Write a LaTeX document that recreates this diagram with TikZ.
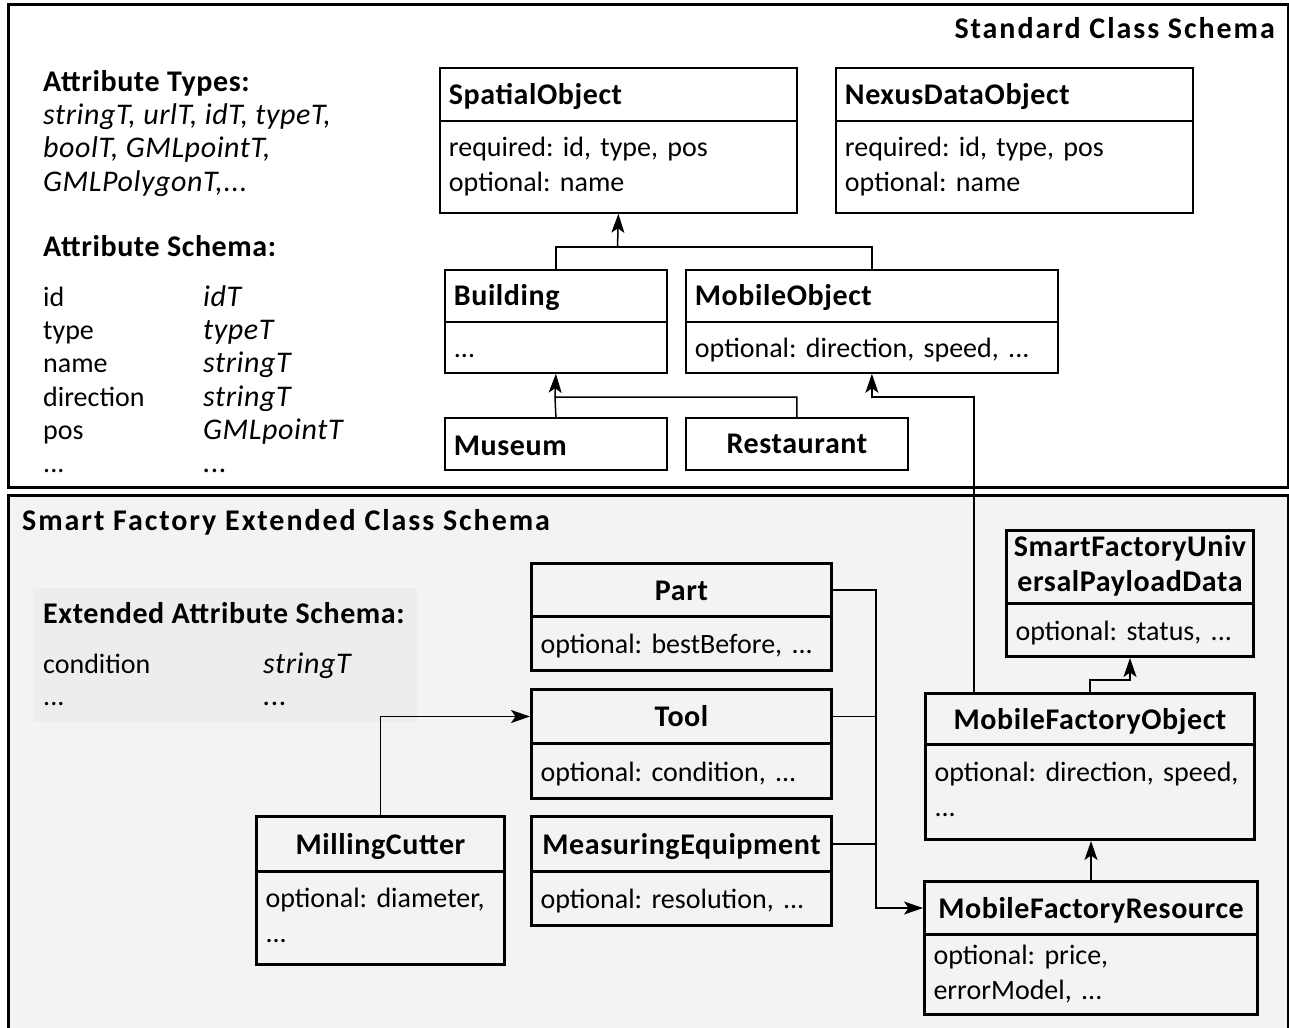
\documentclass[tikz,border=0pt]{standalone}
\usepackage{fontspec}
\setmainfont{Carlito}
\usetikzlibrary{arrows.meta}
\definecolor{panelgray}{HTML}{F3F3F3}
\definecolor{schemagray}{HTML}{EDEDED}
\newcommand{\st}{\strut}
% strut that sits single lines slightly low in their compartment
\newcommand{\tst}{\rule[-7.5pt]{0pt}{35pt}}
\newcommand{\bodyfont}{\fontsize{28}{35}\selectfont}
\newcommand{\boldfont}{\fontsize{30}{35}\selectfont\bfseries\addfontfeature{LetterSpace=2}}
\newcommand{\itfont}{\fontsize{30}{35}\selectfont\itshape\addfontfeature{LetterSpace=2}}
\newcommand{\panelfont}{\fontsize{30}{35}\selectfont\bfseries\addfontfeature{LetterSpace=6.5}}
\frenchspacing
\begin{document}
\begin{tikzpicture}[x=1pt,y=-1pt,
  every node/.style={font=\bodyfont},
  panel/.style={draw, line width=3pt},
  cls/.style={draw, anchor=north west, inner xsep=9pt, inner ysep=0pt},
  stdcls/.style={cls, line width=1.8pt, align=left},
  extcls/.style={cls, line width=3pt, align=left},
  title/.style={font=\boldfont},
  mid/.style={align=center},
  conn/.style={line width=1.5pt},
  arr/.style={conn, -{Stealth[length=19pt,width=13pt,inset=4.5pt]}},
  lbl/.style={anchor=base west, inner sep=0pt},
  lblb/.style={lbl, font=\boldfont},
  lbli/.style={lbl, font=\itfont},
  lblp/.style={lbl, font=\panelfont},
]
\useasboundingbox (0,0) rectangle (1289,1027);

% panels
\draw[panel] (8,5) rectangle (1288,487);
\draw[panel, fill=panelgray] (8,495) rectangle (1288,1045);
\fill[schemagray] (33,588) rectangle (417,722);

% panel titles
\node[lblp, anchor=base east] (stdtitle) at (1275,39) {Standard Class Schema};
\node[lblp] (exttitle) at (22,530) {Smart Factory Extended Class Schema};

% attribute types and schema
\node[lblb] (attypes) at (43,92) {Attribute Types:};
\node[lbli] (atl1) at (43,125) {stringT, urlT, idT, typeT,};
\node[lbli] (atl2) at (43,158) {boolT, GMLpointT,};
\node[lbli] (atl3) at (43,192) {GMLPolygonT,...};
\node[lblb] (atschema) at (43,256) {Attribute Schema:};
\foreach \n/\t/\y [count=\i] in {id/idT/306, type/typeT/339, name/stringT/372,
    direction/stringT/406, pos/GMLpointT/439} {
  \node[lbl] (an\i) at (43,\y) {\n};
  \node[lbli] (at\i) at (203,\y) {\t};
}
\node[lbl] (an6) at (43,472) {...};
\node[lbli] (at6) at (203,472) {...};

% extended attribute schema
\node[lblb] (extschema) at (43,623) {Extended Attribute Schema:};
\node[lbl] (ea1) at (43,673) {condition};
\node[lbli] (et1) at (263,673) {stringT};
\node[lbl] (ea2) at (43,705) {...};
\node[lbli] (et2) at (263,705) {...};

% standard classes
\node[stdcls, title, text width=339pt, minimum height=53pt] (so-h) at (439,67) {SpatialObject\tst};
\node[stdcls, text width=339pt, minimum height=92pt] (so-b) at (439,120) {required: id, type, pos\st\\optional: name\st};
\node[stdcls, title, text width=339pt, minimum height=53pt] (nx-h) at (835,67) {NexusDataObject\tst};
\node[stdcls, text width=339pt, minimum height=92pt] (nx-b) at (835,120) {required: id, type, pos\st\\optional: name\st};

\node[stdcls, title, text width=204pt, minimum height=52pt] (bd-h) at (444,269) {Building\tst};
\node[stdcls, text width=204pt, minimum height=51pt] (bd-b) at (444,321) {...\tst};
\node[stdcls, title, text width=354pt, minimum height=52pt] (mo-h) at (685,269) {MobileObject\tst};
\node[stdcls, text width=354pt, minimum height=51pt] (mo-b) at (685,321) {optional: direction, speed, ...\tst};

\node[stdcls, title, text width=204pt, minimum height=52pt] (mu) at (444,417) {\raisebox{-2pt}{Museum}\tst};
\node[stdcls, title, mid, text width=204pt, minimum height=52pt] (re) at (685,417) {Restaurant\tst};

% smart factory classes
\node[extcls, title, mid, text width=282pt, minimum height=53pt] (pt-h) at (530,562) {Part\tst};
\node[extcls, text width=282pt, minimum height=54pt] (pt-b) at (530,615) {optional: bestBefore, ...\tst};
\node[extcls, title, mid, text width=282pt, minimum height=54pt] (tl-h) at (530,688) {Tool\tst};
\node[extcls, text width=282pt, minimum height=55pt] (tl-b) at (530,742) {optional: condition, ...\tst};
\node[extcls, title, mid, text width=282pt, minimum height=55pt] (me-h) at (530,815) {MeasuringEquipment\tst};
\node[extcls, text width=282pt, minimum height=54pt] (me-b) at (530,870) {optional: resolution, ...\tst};

\node[extcls, title, mid, text width=230pt, minimum height=55pt] (mc-h) at (255,815) {MillingCutter\tst};
\node[extcls, text width=230pt, minimum height=93pt] (mc-b) at (255,870) {optional: diameter,\st\\...\st};

\node[extcls, title, mid, inner xsep=4pt, text width=239pt, minimum height=73pt] (sf-h) at (1005,529) {SmartFactoryUniv\st\\ersalPayloadData\st};
\node[extcls, text width=229pt, minimum height=53pt] (sf-b) at (1005,602) {optional: status, ...\tst};

\node[extcls, title, mid, text width=311pt, minimum height=51pt] (mfo-h) at (924,692) {MobileFactoryObject\tst};
\node[extcls, text width=311pt, minimum height=95pt] (mfo-b) at (924,743) {optional: direction, speed,\st\\...\st};

\node[extcls, title, mid, text width=315pt, minimum height=53pt] (mfr-h) at (923,880) {MobileFactoryResource\tst};
\node[extcls, text width=315pt, minimum height=80pt] (mfr-b) at (923,933) {optional: price,\st\\errorModel, ...\st};

% generalisations in the standard schema
\coordinate (j1) at (617.5,247);
\draw[conn] (bd-h.north) |- (j1) -| (mo-h.north);
\draw[arr] (j1) -- (so-b.south);
\coordinate (j2) at (555,397);
\draw[conn] (mu.north) -- (j2) -| (re.north);
\draw[arr] (j2) -- (bd-b.south);
\draw[arr] ([xshift=50pt]mfo-h.north west) |- (mo-b.south |- j2) -- (mo-b.south);

% generalisations in the smart factory schema
\coordinate (bus) at (876,600);
\draw[arr] (pt-h.east) -| (bus |- mfr-h.west) -- (mfr-h.west);
\draw[conn] (tl-h.east) -- (tl-h.east -| bus);
\draw[conn] (me-h.east) -- (me-h.east -| bus);
\draw[arr] (mc-h.north) |- (tl-h.west);
\draw[arr] (mfr-h.north) -- (mfr-h.north |- mfo-b.south);
\draw[arr] (mfo-h.north) -- ++(0,-12) -| (sf-b.south);
\end{tikzpicture}
\end{document}
